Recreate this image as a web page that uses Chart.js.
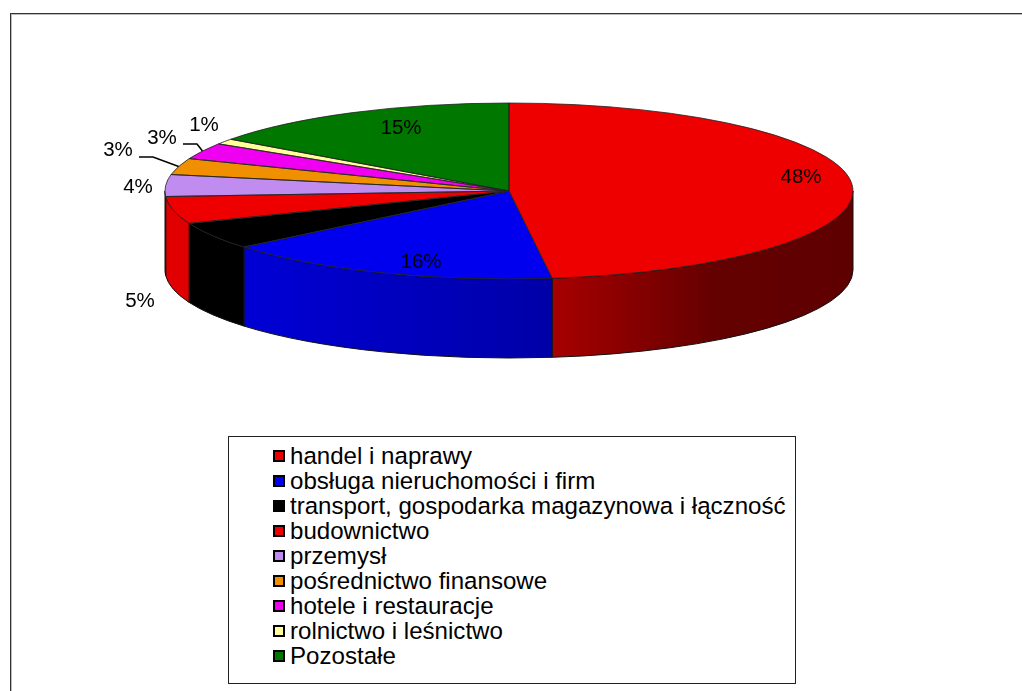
<!DOCTYPE html>
<html>
<head>
<meta charset="utf-8">
<script src="https://cdn.jsdelivr.net/npm/chart.js@4/dist/chart.umd.min.js"></script>
<style>
  html, body { margin: 0; padding: 0; background: #fff; }
  #wrap { position: relative; width: 1022px; height: 691px; overflow: hidden; }
  #chart { position: absolute; left: 0; top: 0; }
  #legend {
    position: absolute; left: 228px; top: 436px; width: 568px; height: 248px;
    border: 1px solid #222; box-sizing: border-box; background: #fff;
    font-family: "Liberation Sans", Arial, sans-serif; font-size: 24.1px; color: #000;
  }
  .item { position: absolute; left: 0; height: 25px; width: 100%; }
  .box {
    position: absolute; left: 44px; top: 7px; width: 12px; height: 12px;
    border: 2px solid #000; box-sizing: border-box;
  }
  .txt { position: absolute; left: 61px; top: 0; line-height: 25px; white-space: nowrap; }
</style>
</head>
<body>
<div id="wrap">
  <canvas id="chart" width="1022" height="691"></canvas>
  <div id="legend"></div>
</div>
<script>
const categories = [
  'handel i naprawy',
  'obsługa nieruchomości i firm',
  'transport, gospodarka magazynowa i łączność',
  'budownictwo',
  'przemysł',
  'pośrednictwo finansowe',
  'hotele i restauracje',
  'rolnictwo i leśnictwo',
  'Pozostałe'
];
const shares = [48, 16, 5, 5, 4, 3, 3, 1, 15];
const sliceColors = ['#EE0000', '#0000EE', '#000000', '#EE0000', '#C08CF0', '#F09000', '#F000F0', '#FFFF99', '#007800'];

// ellipse geometry of the 3d pie (layout only)
const CX = 509, CY = 191, RX = 344, RY = 88, DEPTH = 79;
// where each percentage label sits
const labelPos = [[801, 177], [421, 262], [215, 270], [140, 301], [138, 187], [118, 150], [162, 138], [204, 125], [401, 128]];
const leaders = { 5: [[139, 157], [153, 157]], 6: [[183, 144], [197, 144]] };

const total = shares.reduce((a, b) => a + b, 0);

function shade(hex, f) {
  const n = parseInt(hex.slice(1), 16);
  const r = Math.round(((n >> 16) & 255) * f);
  const g = Math.round(((n >> 8) & 255) * f);
  const b = Math.round((n & 255) * f);
  return `rgb(${r},${g},${b})`;
}

function ellPt(t, dy) {
  return [CX + RX * Math.cos(t), CY + RY * Math.sin(t) + (dy || 0)];
}

const pie3d = {
  id: 'pie3d',
  beforeDatasetsDraw(chart) {
    const ctx = chart.ctx;
    const arcs = chart.getDatasetMeta(0).data;
    const x0 = CX - RX, w = 2 * RX;

    // side walls, only the front half of the cylinder is visible
    arcs.forEach((arc, i) => {
      const a = Math.max(arc.startAngle, 0);
      const b = Math.min(arc.endAngle, Math.PI);
      if (b <= a) return;
      const g = ctx.createLinearGradient(x0, 0, x0 + w, 0);
      g.addColorStop(0, shade(sliceColors[i], 0.95));
      g.addColorStop(0.564, shade(sliceColors[i], 0.7));
      g.addColorStop(0.8, shade(sliceColors[i], 0.42));
      g.addColorStop(1, shade(sliceColors[i], 0.40));
      ctx.beginPath();
      const p = ellPt(a);
      ctx.moveTo(p[0], p[1]);
      ctx.ellipse(CX, CY, RX, RY, 0, a, b);
      const q = ellPt(b, DEPTH);
      ctx.lineTo(q[0], q[1]);
      ctx.ellipse(CX, CY + DEPTH, RX, RY, 0, b, a, true);
      ctx.closePath();
      ctx.fillStyle = g;
      ctx.fill();
      ctx.lineWidth = 1;
      ctx.strokeStyle = '#111';
      ctx.stroke();
    });

    // squash the library's circular pie onto the top ellipse
    const { x, y, outerRadius } = arcs[0];
    ctx.save();
    ctx.translate(CX, CY);
    ctx.scale(RX / outerRadius, RY / outerRadius);
    ctx.translate(-x, -y);
  },
  afterDatasetsDraw(chart) {
    const ctx = chart.ctx;
    ctx.restore();
    const arcs = chart.getDatasetMeta(0).data;

    // slice outlines on the top face
    ctx.lineWidth = 0.8;
    ctx.strokeStyle = '#222';
    arcs.forEach(arc => {
      ctx.beginPath();
      ctx.moveTo(CX, CY);
      const p = ellPt(arc.startAngle);
      ctx.lineTo(p[0], p[1]);
      ctx.ellipse(CX, CY, RX, RY, 0, arc.startAngle, arc.endAngle);
      ctx.closePath();
      ctx.stroke();
    });

    // percentage labels
    ctx.font = '20.5px "Liberation Sans", Arial, sans-serif';
    ctx.textAlign = 'center';
    ctx.textBaseline = 'middle';
    arcs.forEach((arc, i) => {
      const pos = labelPos[i];
      if (!pos) return;
      ctx.fillStyle = '#000';
      ctx.fillText(Math.round(shares[i] / total * 100) + '%', pos[0], pos[1]);
      if (leaders[i]) {
        const mid = (arc.startAngle + arc.endAngle) / 2;
        const e = ellPt(mid);
        ctx.beginPath();
        ctx.moveTo(leaders[i][0][0], leaders[i][0][1]);
        ctx.lineTo(leaders[i][1][0], leaders[i][1][1]);
        ctx.lineTo(e[0], e[1]);
        ctx.lineWidth = 1.5;
        ctx.strokeStyle = '#000';
        ctx.stroke();
      }
    });
  },
  afterDraw(chart) {
    const ctx = chart.ctx;
    ctx.save();
    ctx.lineWidth = 1;
    ctx.strokeStyle = '#bbb';
    ctx.strokeRect(11.5, 14.5, 1100, 1000);
    ctx.strokeStyle = '#333';
    ctx.strokeRect(10.5, 13.5, 1100, 1000);
    ctx.restore();
  }
};

new Chart(document.getElementById('chart'), {
  type: 'pie',
  data: {
    labels: categories,
    datasets: [{
      data: shares,
      backgroundColor: sliceColors,
      borderWidth: 0
    }]
  },
  options: {
    responsive: false,
    animation: false,
    events: [],
    plugins: {
      legend: { display: false },
      tooltip: { enabled: false }
    }
  },
  plugins: [pie3d]
});

const legendEl = document.getElementById('legend');
categories.forEach((name, i) => {
  const row = document.createElement('div');
  row.className = 'item';
  row.style.top = (6 + i * 25) + 'px';
  const box = document.createElement('span');
  box.className = 'box';
  box.style.background = sliceColors[i];
  const txt = document.createElement('span');
  txt.className = 'txt';
  txt.textContent = name;
  row.appendChild(box);
  row.appendChild(txt);
  legendEl.appendChild(row);
});
</script>
</body>
</html>
